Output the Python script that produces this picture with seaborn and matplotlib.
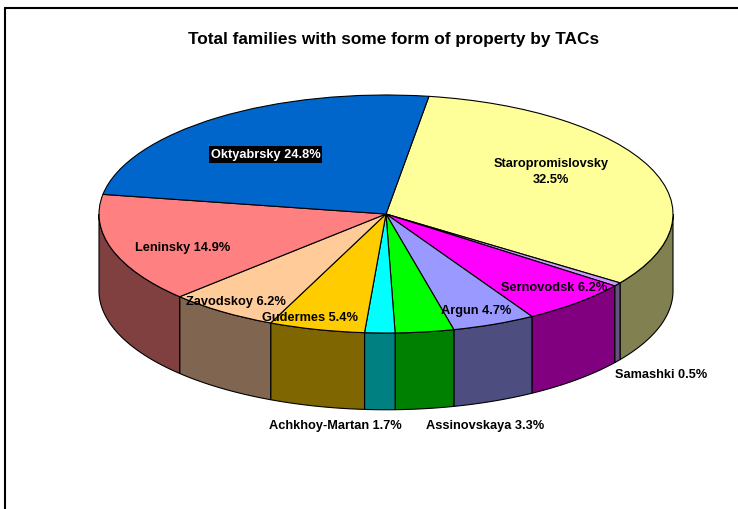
import numpy as np
import matplotlib
matplotlib.use("Agg")
import matplotlib.pyplot as plt
from matplotlib.lines import Line2D
import seaborn as sns

# ---- data ----
categories = ["Staropromislovsky", "Samashki", "Sernovodsk", "Argun", "Assinovskaya",
              "Achkhoy-Martan", "Gudermes", "Zavodskoy", "Leninsky", "Oktyabrsky"]
shares = [32.5, 0.5, 6.2, 4.7, 3.3, 1.7, 5.4, 6.2, 14.9, 24.8]
title = "Total families with some form of property by TACs"

# ---- styles ----
top_colors = ["#FFFF99", "#CC99FF", "#FF00FF", "#9999FF", "#00FF00",
              "#00FFFF", "#FFCC00", "#FFCC99", "#FF8080", "#0066CC"]
side_colors = ["#808050", "#66507F", "#800080", "#4D4D80", "#008000",
               "#008080", "#806600", "#806650", "#804040", "#003366"]
# label positions in ellipse units (x: semi-axis, y: semi-axis)
label_pos = [(0.575, 0.36), (0.958, -1.345), (0.585, -0.613), (0.314, -0.807),
             (0.345, -1.773), (-0.178, -1.773), (-0.265, -0.866), (-0.523, -0.73),
             (-0.707, -0.277), (-0.42, 0.50)]
depth = 0.645

sns.set_style("white")
plt.rcParams["font.family"] = ["Liberation Sans", "DejaVu Sans"]
plt.rcParams["text.color"] = "black"

W, H = 738, 510
cx, cy, a, b = 386, 215, 287, 119

fig = plt.figure(figsize=(W / 100, H / 100), dpi=100)
ax = fig.add_axes([0, 0, 1, 1])

wedges, _ = ax.pie(shares, colors=top_colors, startangle=81.4, counterclock=False,
                   normalize=True,
                   wedgeprops=dict(edgecolor="black", linewidth=0.8, zorder=3))

# side walls (front half only)
for w, sc in zip(wedges, side_colors):
    t1, t2 = sorted((w.theta1, w.theta2))
    for k in (-2, -1, 0, 1):
        lo = max(t1, -180 + 360 * k)
        hi = min(t2, 0 + 360 * k)
        if lo < hi:
            ts = np.radians(np.linspace(lo, hi, 80))
            xs = np.cos(ts)
            ys = np.sin(ts)
            px = np.concatenate([xs, xs[::-1]])
            py = np.concatenate([ys, (ys - depth)[::-1]])
            ax.fill(px, py, facecolor=sc, edgecolor="black", linewidth=0.8, zorder=2)

ax.set_aspect("auto")
ax.set_xlim(-cx / a, (W - cx) / a)
ax.set_ylim((cy - H) / b, cy / b)
ax.axis("off")

for i, (name, val, (u, v)) in enumerate(zip(categories, shares, label_pos)):
    if name == "Staropromislovsky":
        txt = f"{name}\n{val}%"
    else:
        txt = f"{name} {val}%"
    kw = dict(ha="center", va="center", fontsize=9.2, fontweight="bold", zorder=5,
              linespacing=1.5)
    if name == "Oktyabrsky":
        kw.update(color="white",
                  bbox=dict(facecolor="black", edgecolor="none", pad=1.5))
    else:
        kw.update(color="black")
    ax.text(u, v, txt, **kw)

fig.text(394 / W, 1 - 40 / H, title, ha="center", va="center",
         fontsize=12.4, fontweight="bold", color="black")

# chart frame (partially visible)
fig.add_artist(Line2D([5 / W, 1], [1 - 9 / H, 1 - 9 / H], transform=fig.transFigure,
                      color="black", linewidth=1.5))
fig.add_artist(Line2D([5 / W, 5 / W], [0, 1 - 9 / H], transform=fig.transFigure,
                      color="black", linewidth=1.5))

fig.savefig("out.png", dpi=100)
